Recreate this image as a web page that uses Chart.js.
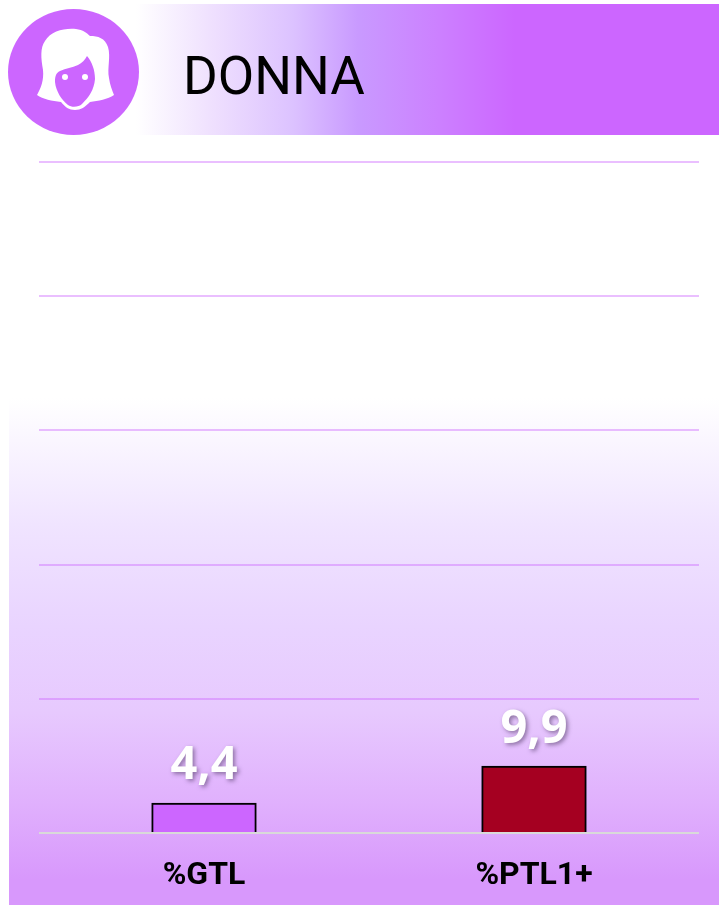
<!DOCTYPE html>
<html><head><meta charset="utf-8">
<style>
html,body{margin:0;padding:0;background:#fff;width:719px;height:905px;overflow:hidden}
#bg{position:absolute;left:9px;top:398px;width:710px;height:507px;background:linear-gradient(to bottom,#ffffff 0%,#f0e4ff 25%,#e9d4ff 45%,#e7c9fe 62%,#e0b0fd 80%,#d898fc 95%,#d898fc 100%)}
#hdr{position:absolute;left:136px;top:4px;width:583px;height:131px;background:linear-gradient(to right,#ffffff 0%,#efe0fe 13%,#dcc2ff 27%,#c99aff 38%,#cc80ff 52%,#cc66ff 65%,#cc66ff 100%)}
#ico{position:absolute;left:0;top:0}
#ttl{position:absolute;left:183px;top:38px;font:53px Roboto;color:#000;line-height:76px}
canvas{position:absolute;left:0;top:1px}
</style></head><body>
<div id="bg"></div><div id="hdr"></div>
<svg id="ico" width="145" height="140" viewBox="0 0 145 140">
<ellipse cx="73.5" cy="72" rx="65.5" ry="63" fill="#cc66ff"/>
<path fill="#fff" d="M37 95 C41 88 44 80 43 70 C41 58 40 48 45 41 C51 31 64 28 76 29 C83 30 87 33 90 36 C98 36 105 38 108 47 C111 57 107 68 109 78 C110 85 112 90 114 95 C108 99 98 101 90 102 C85 107 81 110 75 110 C69 110 65 107 61 102 C52 101 43 99 37 95 Z"/>
<path fill="#cc66ff" d="M87 56 C92 62 95 70 95 79 C94 90 89 97 82 104 C79 107 72 108 68 105 C62 100 56 92 55 82 C55 76 56 73 60 71 C66 68 72 68 78 65 C82 63 85 60 87 56 Z"/>
<circle cx="65" cy="77" r="3" fill="#fff"/><circle cx="85" cy="77" r="3" fill="#fff"/>
</svg>
<div id="ttl">DONNA</div>
<canvas id="c" width="719" height="905"></canvas>
<script src="https://cdn.jsdelivr.net/npm/chart.js@4"></script>
<script>
const categories = ["%GTL", "%PTL1+"];
const values = [4.4, 9.9];
const valueLabels = ["4,4", "9,9"];
const barColors = ["#cc66ff", "#a50021"];
const yTicks = [0, 20, 40, 60, 80, 100];

const valueLabelPlugin = {
  id: "valueLabels",
  afterDatasetsDraw(chart) {
    const ctx = chart.ctx, meta = chart.getDatasetMeta(0);
    ctx.save();
    ctx.font = '700 47px "Noto Sans"';
    ctx.textAlign = "center";
    ctx.textBaseline = "alphabetic";
    ctx.fillStyle = "#fff";
    ctx.shadowColor = "rgba(70,50,90,0.55)";
    ctx.shadowBlur = 4;
    ctx.shadowOffsetX = 2;
    ctx.shadowOffsetY = 2;
    meta.data.forEach((bar, i) => ctx.fillText(valueLabels[i], bar.x, bar.y - 24));
    ctx.restore();
  }
};

new Chart(document.getElementById("c"), {
  type: "bar",
  data: { labels: categories, datasets: [{
    data: values, backgroundColor: barColors, borderColor: "#000", borderWidth: 2,
    inflateAmount: 0.7, categoryPercentage: 1, barPercentage: 0.315
  }]},
  options: {
    responsive: false, animation: false,
    layout: { padding: { left: 39, right: 20, top: 161, bottom: 0 } },
    plugins: { legend: { display: false }, tooltip: { enabled: false } },
    scales: {
      x: {
        grid: { display: false }, border: { display: false },
        afterFit(s) { s.height = 73; },
        ticks: { color: "#000", padding: 16, font: { family: "Roboto", weight: "700", size: 32 }, maxRotation: 0 }
      },
      y: {
        min: 0, max: 100,
        afterBuildTicks(s) { s.ticks = yTicks.map(v => ({ value: v })); },
        ticks: { display: false },
        border: { display: false },
        grid: { z: 1, lineWidth: 2, drawTicks: false, color: c => c.tick.value === 0 ? "#d9d9d9" : "rgba(204,102,255,0.42)" }
      }
    }
  },
  plugins: [valueLabelPlugin]
});
</script>
</body></html>
